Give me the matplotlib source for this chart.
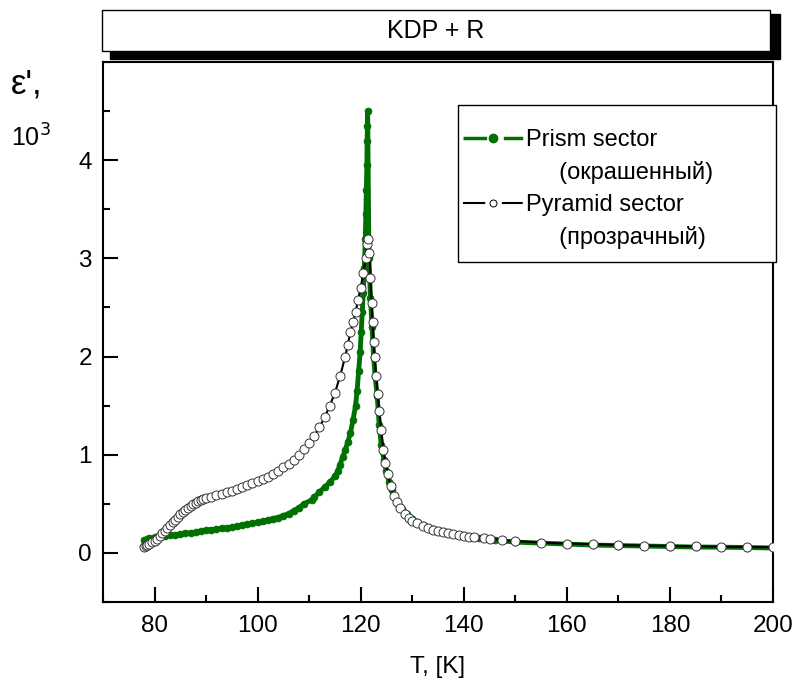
import numpy as np
import matplotlib
matplotlib.use("Agg")
import matplotlib.pyplot as plt
from matplotlib.patches import Rectangle
from matplotlib.lines import Line2D
from matplotlib.ticker import MultipleLocator

plt.rcParams['font.family'] = ['Liberation Sans', 'DejaVu Sans']
plt.rcParams['lines.scale_dashes'] = False

# Prism sector (coloured)
prism_T = [78.0, 78.5, 79.0, 80, 81, 82, 83, 84, 85, 86, 87, 88, 89, 90, 91, 92, 93, 94,
           95, 96, 97, 98, 99, 100, 101, 102, 103, 104, 105, 106, 107, 108, 109,
           110.5, 111, 112, 113, 114, 115, 115.5, 116, 116.5, 117, 117.5, 118, 118.5,
           119, 119.3, 119.6, 119.9, 120.1, 120.3, 120.5, 120.7, 120.9, 121.0, 121.1,
           121.2, 121.25, 121.3, 121.35,
           121.6, 121.9, 122.2, 122.5, 122.8, 123.2, 123.6, 124, 124.5, 125, 125.5,
           126, 127, 128, 129, 130, 131, 132, 134, 136, 138, 140, 143, 146, 150,
           155, 160, 165, 170, 175, 180, 185, 190, 195, 200]
prism_eps = [0.13, 0.14, 0.15, 0.16, 0.165, 0.17, 0.18, 0.185, 0.19, 0.20, 0.205, 0.21,
             0.22, 0.23, 0.235, 0.24, 0.25, 0.255, 0.26, 0.27, 0.28, 0.29, 0.30, 0.31,
             0.32, 0.335, 0.35, 0.36, 0.38, 0.40, 0.43, 0.46, 0.50,
             0.54, 0.57, 0.62, 0.67, 0.72, 0.78, 0.83, 0.90, 0.98, 1.05, 1.13, 1.22,
             1.35, 1.50, 1.65, 1.85, 2.05, 2.25, 2.45, 2.65, 2.90, 3.20, 3.45, 3.70,
             3.95, 4.20, 4.35, 4.50,
             3.00, 2.60, 2.30, 2.00, 1.80, 1.60, 1.30, 1.10, 0.95, 0.83, 0.72,
             0.64, 0.53, 0.45, 0.40, 0.35, 0.31, 0.28, 0.24, 0.21, 0.19, 0.17, 0.15,
             0.13, 0.11, 0.10, 0.09, 0.08, 0.075, 0.07, 0.065, 0.06, 0.058, 0.055, 0.05]

# Pyramid sector (transparent)
pyr_T = [78.0, 78.3, 78.6, 79, 79.5, 80, 80.5, 81, 81.5, 82, 82.5, 83, 83.5, 84, 84.5,
         85, 85.5, 86, 86.5, 87, 87.5, 88, 88.5, 89, 89.5, 90, 91, 92, 93, 94, 95, 96,
         97, 98, 99, 100, 101, 102, 103, 104, 105, 106, 107, 108, 109, 110, 111, 112,
         113, 114, 115, 116, 117, 117.5, 118, 118.5, 119, 119.5, 120, 120.5, 121,
         121.3, 121.5, 121.7, 121.9, 122.1, 122.3, 122.5, 122.7, 123.0, 123.3, 123.6,
         124.0, 124.4, 124.8, 125.3, 125.8, 126.4, 127, 127.7, 128.5, 129.3, 130, 131,
         132, 133, 134, 135, 136, 137, 138, 139, 140, 141, 142, 144, 145, 147.5, 150,
         155, 160, 165, 170, 175, 180, 185, 190, 195, 200]
pyr_eps = [0.06, 0.07, 0.08, 0.09, 0.11, 0.12, 0.14, 0.17, 0.20, 0.22, 0.25, 0.28, 0.31,
           0.34, 0.37, 0.40, 0.42, 0.44, 0.46, 0.48, 0.50, 0.51, 0.53, 0.54, 0.55, 0.56,
           0.57, 0.59, 0.60, 0.62, 0.63, 0.65, 0.67, 0.69, 0.71, 0.73, 0.75, 0.77, 0.80,
           0.83, 0.87, 0.91, 0.95, 1.00, 1.06, 1.12, 1.19, 1.28, 1.38, 1.50, 1.63, 1.80,
           2.00, 2.12, 2.25, 2.35, 2.45, 2.58, 2.70, 2.85, 3.00,
           3.15, 3.20, 3.05, 2.80, 2.55, 2.35, 2.15, 2.00, 1.80, 1.62, 1.45,
           1.25, 1.05, 0.92, 0.80, 0.68, 0.58, 0.52, 0.46, 0.40, 0.36, 0.33, 0.30,
           0.27, 0.25, 0.23, 0.22, 0.21, 0.20, 0.19, 0.18, 0.17, 0.165, 0.16, 0.15, 0.145,
           0.13, 0.12, 0.105, 0.095, 0.09, 0.08, 0.075, 0.07, 0.067, 0.063, 0.06, 0.058]

green = '#007000'

fig = plt.figure(figsize=(7.94, 6.80), dpi=100)
W, H = 794, 680
ax = fig.add_axes([103 / W, 1 - 602 / H, 670 / W, 540 / H])

ax.plot(prism_T, prism_eps, '-', color=green, lw=3.5, marker='o', ms=5,
        mfc=green, mec=green, mew=0.5, zorder=3)
ax.plot(pyr_T, pyr_eps, '-', color='black', lw=1.5, marker='o', ms=6.5,
        mfc='white', mec='#333333', mew=0.7, zorder=4)

ax.set_xlim(70, 200)
ax.set_ylim(-0.5, 5)
ax.set_xticks([80, 100, 120, 140, 160, 180, 200])
ax.xaxis.set_minor_locator(MultipleLocator(10))
ax.set_yticks([0, 1, 2, 3, 4])
ax.yaxis.set_minor_locator(MultipleLocator(0.5))
ax.tick_params(which='both', direction='in', width=1.5, labelsize=17.5)
ax.tick_params(which='major', length=11)
ax.tick_params(axis='x', which='major', pad=9)
ax.tick_params(axis='y', which='major', pad=8)
ax.tick_params(which='minor', length=5)
ax.tick_params(top=False, right=False, which='both')
for s in ax.spines.values():
    s.set_linewidth(1.5)

ax.set_xlabel('T, [K]', fontsize=17.5, labelpad=14)

# legend frame drawn by hand, entries without frame
ax.add_patch(Rectangle(((458 - 103) / 670, (602 - 262) / 540), 318 / 670, 157 / 540,
                       transform=ax.transAxes, facecolor='white', edgecolor='black',
                       lw=1.0, clip_on=False, zorder=5))
h1 = Line2D([], [], color=green, lw=2.5, ls=(0, (17, 12, 14, 100)), marker='o', ms=6,
            mfc=green, mec=green)
h2 = Line2D([], [], color='black', lw=1.5, ls=(0, (16, 12, 15, 100)), marker='o', ms=5,
            mfc='white', mec='black', mew=0.7)
blank = Line2D([], [], color='none')
leg = ax.legend([h1, blank, h2, blank],
                ['Prism sector', '     (окрашенный)', 'Pyramid sector', '     (прозрачный)'],
                loc='upper left', bbox_to_anchor=((463 - 103) / 670, (602 - 129) / 540),
                fontsize=17, handlelength=2.55, handletextpad=0.1, labelspacing=0.43,
                borderpad=0, borderaxespad=0, frameon=False, numpoints=1,
                handleheight=0.7)
leg.set_zorder(6)

# title box with shadow
fig.patches.append(Rectangle((110 / W, 1 - 59 / H), 670 / W, 45 / H, transform=fig.transFigure,
                             facecolor='black', edgecolor='black', zorder=1))
fig.patches.append(Rectangle((102 / W, 1 - 51 / H), 668 / W, 41 / H, transform=fig.transFigure,
                             facecolor='white', edgecolor='black', lw=1.0, zorder=2))
fig.text((102 + 770) / 2 / W, 1 - 31 / H, 'KDP + R', ha='center', va='center', fontsize=18, zorder=3)

# y label
fig.text(11 / W, 1 - 94 / H, "ε',", fontsize=25, ha='left', va='baseline')
fig.text(11 / W, 1 - 147 / H, r'10$^3$', fontsize=18, ha='left', va='baseline')

fig.savefig('out.png', dpi=100)
